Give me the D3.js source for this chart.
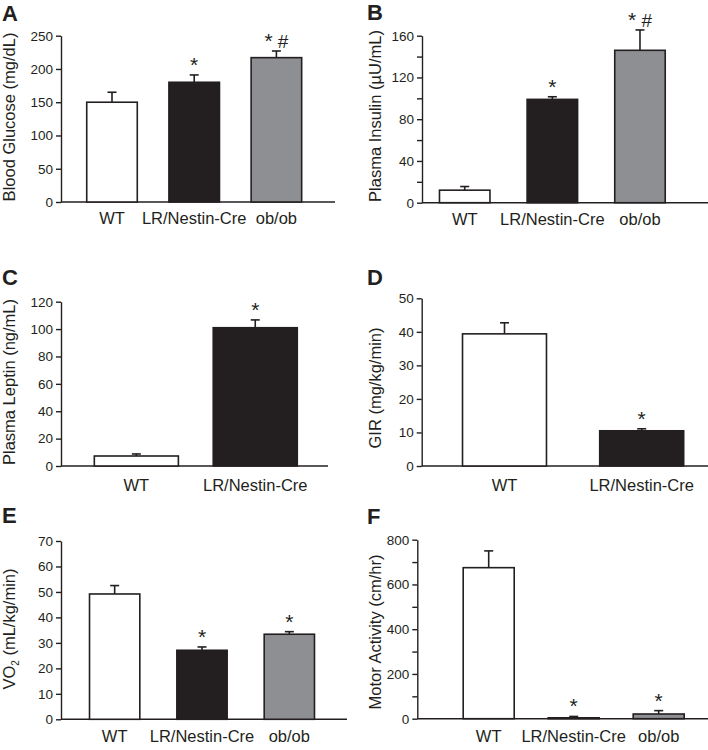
<!DOCTYPE html>
<html>

<head>
    <meta charset="utf-8">
    <script src="https://d3js.org/d3.v7.min.js"></script>
    <style>
        body {
            margin: 0;
            background: #fff;
        }

        svg text {
            font-family: "Liberation Sans", Arial, sans-serif;
            fill: #231f20;
        }

        .axis path,
        .axis line {
            stroke: #231f20;
            stroke-width: 1.4;
        }
    </style>
</head>

<body>
    <svg id="chart" width="708" height="750"></svg>
    <script>
        // groups
        var groups3 = ["WT", "LR/Nestin-Cre", "ob/ob"];
        var groups2 = ["WT", "LR/Nestin-Cre"];
        var fills3 = ["#ffffff", "#231f20", "#8e8f93"];
        var fills2 = ["#ffffff", "#231f20"];

        // A - blood glucose
        var glucoseMean = [150, 180, 217];
        var glucoseSem = [15, 11, 10];
        var glucoseMarks = ["", "*", "* #"];
        var glucoseTicks = [0, 50, 100, 150, 200, 250];

        // B - plasma insulin
        var insulinMean = [12, 99, 146];
        var insulinSem = [3.5, 2.5, 19.5];
        var insulinMarks = ["", "*", "* #"];
        var insulinTicks = [0, 40, 80, 120, 160];
        var insulinMinor = [20, 60, 100, 140];

        // C - plasma leptin
        var leptinMean = [7.3, 101];
        var leptinSem = [1.5, 5.7];
        var leptinMarks = ["", "*"];
        var leptinTicks = [0, 20, 40, 60, 80, 100, 120];

        // D - GIR
        var girMean = [39.4, 10.5];
        var girSem = [3.3, 0.6];
        var girMarks = ["", "*"];
        var girTicks = [0, 10, 20, 30, 40, 50];

        // E - VO2
        var vo2Mean = [49.2, 27.1, 33.4];
        var vo2Sem = [3.3, 1.3, 1.0];
        var vo2Marks = ["", "*", "*"];
        var vo2Ticks = [0, 10, 20, 30, 40, 50, 60, 70];

        // F - motor activity
        var motorMean = [675, 4, 21];
        var motorSem = [75, 6, 15];
        var motorMarks = ["", "*", "*"];
        var motorTicks = [0, 200, 400, 600, 800];
        var motorMinor = [100, 300, 500, 700];

        var panels = [
            { letter: "A", lx: 2, ly: 21, label: "Blood Glucose (mg/dL)", tx: 15, ty: 117,
              groups: groups3, fills: fills3, mean: glucoseMean, sem: glucoseSem, marks: glucoseMarks,
              ticks: glucoseTicks, minor: [], ax: 61, yb: 202, yt: 35.7, xe: 335, band: [70.9, 317.5], pad: 0.385, xl: 224 },
            { letter: "B", lx: 367, ly: 20, label: "Plasma Insulin (\u00b5U/mL)", tx: 381, ty: 116,
              groups: groups3, fills: fills3, mean: insulinMean, sem: insulinSem, marks: insulinMarks,
              ticks: insulinTicks, minor: insulinMinor, ax: 422, yb: 202.7, yt: 35.7, xe: 708, band: [420.9, 683.8], pad: 0.424, xl: 225 },
            { letter: "C", lx: 2, ly: 285, label: "Plasma Leptin (ng/mL)", tx: 15, ty: 382,
              groups: groups2, fills: fills2, mean: leptinMean, sem: leptinSem, marks: leptinMarks,
              ticks: leptinTicks, minor: [], ax: 61, yb: 466, yt: 301.7, xe: 328, band: [76.9, 314.7], pad: 0.293, xl: 491 },
            { letter: "D", lx: 367, ly: 285, label: "GIR (mg/kg/min)", tx: 381, ty: 388,
              groups: groups2, fills: fills2, mean: girMean, sem: girSem, marks: girMarks,
              ticks: girTicks, minor: [], ax: 421.7, yb: 466, yt: 298.3, xe: 708, band: [435.9, 710.3], pad: 0.388, xl: 491 },
            { letter: "E", lx: 2, ly: 523, label: "VO", sub: "2", rest: " (mL/kg/min)", tx: 15, ty: 629,
              groups: groups3, fills: fills3, mean: vo2Mean, sem: vo2Sem, marks: vo2Marks,
              ticks: vo2Ticks, minor: [], ax: 61, yb: 719.3, yt: 541, xe: 347, band: [71, 333], pad: 0.424, xl: 742 },
            { letter: "F", lx: 367, ly: 524, label: "Motor Activity (cm/hr)", tx: 381, ty: 632,
              groups: groups3, fills: fills3, mean: motorMean, sem: motorSem, marks: motorMarks,
              ticks: motorTicks, minor: motorMinor, ax: 417.3, yb: 718.7, yt: 539.7, xe: 708, band: [446.2, 701.2], pad: 0.4, xl: 742 }
        ];

        var svg = d3.select("#chart");

        panels.forEach(function (p) {
            var g = svg.append("g");

            var x = d3.scaleBand()
                .domain(p.groups)
                .range(p.band)
                .paddingInner(p.pad)
                .paddingOuter(p.pad / 2);

            var y = d3.scaleLinear()
                .domain([0, d3.max(p.ticks)])
                .range([p.yb, p.yt]);

            var rows = p.groups.map(function (d, i) {
                return { name: d, mean: p.mean[i], sem: p.sem[i], fill: p.fills[i], mark: p.marks[i] };
            });

            // x axis line
            g.append("line")
                .attr("x1", p.ax).attr("x2", p.xe)
                .attr("y1", y(0)).attr("y2", y(0))
                .attr("stroke", "#231f20")
                .attr("stroke-width", 1.4);

            // error bars (upper only)
            var err = g.selectAll(".err").data(rows).enter().append("g");
            err.append("line")
                .attr("x1", d => x(d.name) + x.bandwidth() / 2)
                .attr("x2", d => x(d.name) + x.bandwidth() / 2)
                .attr("y1", d => y(d.mean))
                .attr("y2", d => y(d.mean + d.sem))
                .attr("stroke", "#231f20")
                .attr("stroke-width", 1.6);
            err.append("line")
                .attr("x1", d => x(d.name) + x.bandwidth() / 2 - 4.5)
                .attr("x2", d => x(d.name) + x.bandwidth() / 2 + 4.5)
                .attr("y1", d => y(d.mean + d.sem))
                .attr("y2", d => y(d.mean + d.sem))
                .attr("stroke", "#231f20")
                .attr("stroke-width", 1.6);

            // bars
            g.selectAll(".bar").data(rows).enter().append("rect")
                .attr("x", d => x(d.name))
                .attr("y", d => y(d.mean))
                .attr("width", x.bandwidth())
                .attr("height", d => y(0) - y(d.mean))
                .attr("fill", d => d.fill)
                .attr("stroke", "#231f20")
                .attr("stroke-width", 1.6);

            // significance marks: big asterisk, hash
            var marks = g.selectAll(".mark").data(rows).enter().append("text")
                .attr("x", d => x(d.name) + x.bandwidth() / 2)
                .attr("y", d => y(d.mean + d.sem) - 3)
                .attr("text-anchor", "middle");
            marks.selectAll("tspan")
                .data(d => d.mark.split(" ").filter(s => s.length))
                .enter().append("tspan")
                .style("font-size", s => s == "*" ? "21px" : "19px")
                .text((s, i) => (i > 0 ? "\u00a0" : "") + s);

            // y axis
            var yAxis = g.append("g")
                .attr("class", "axis")
                .attr("transform", "translate(" + p.ax + ",0)")
                .call(d3.axisLeft(y)
                    .tickValues(p.ticks)
                    .tickSize(5)
                    .tickSizeOuter(0)
                    .tickPadding(3));
            yAxis.attr("font-family", null).attr("font-size", null);
            yAxis.selectAll("text").style("font-size", "13.5px");

            if (p.minor.length) {
                var minorAxis = g.append("g")
                    .attr("class", "axis")
                    .attr("transform", "translate(" + p.ax + ",0)")
                    .call(d3.axisLeft(y)
                        .tickValues(p.minor)
                        .tickSize(5)
                        .tickFormat(""));
                minorAxis.select(".domain").remove();
            }

            // group labels
            g.selectAll(".xlab").data(rows).enter().append("text")
                .attr("x", d => x(d.name) + x.bandwidth() / 2)
                .attr("y", p.xl)
                .attr("text-anchor", "middle")
                .style("font-size", "16.5px")
                .text(d => d.name);

            // y label
            var yl = g.append("text")
                .attr("transform", "translate(" + p.tx + "," + p.ty + ") rotate(-90)")
                .attr("text-anchor", "middle")
                .style("font-size", "16.5px")
                .text(p.label);
            if (p.sub) {
                yl.append("tspan")
                    .attr("dy", 4)
                    .style("font-size", "10px")
                    .text(p.sub);
                yl.append("tspan")
                    .attr("dy", -4)
                    .text(p.rest);
            }

            // panel letter
            g.append("text")
                .attr("x", p.lx)
                .attr("y", p.ly)
                .style("font-size", "22px")
                .style("font-weight", "bold")
                .text(p.letter);
        });
    </script>
</body>

</html>
